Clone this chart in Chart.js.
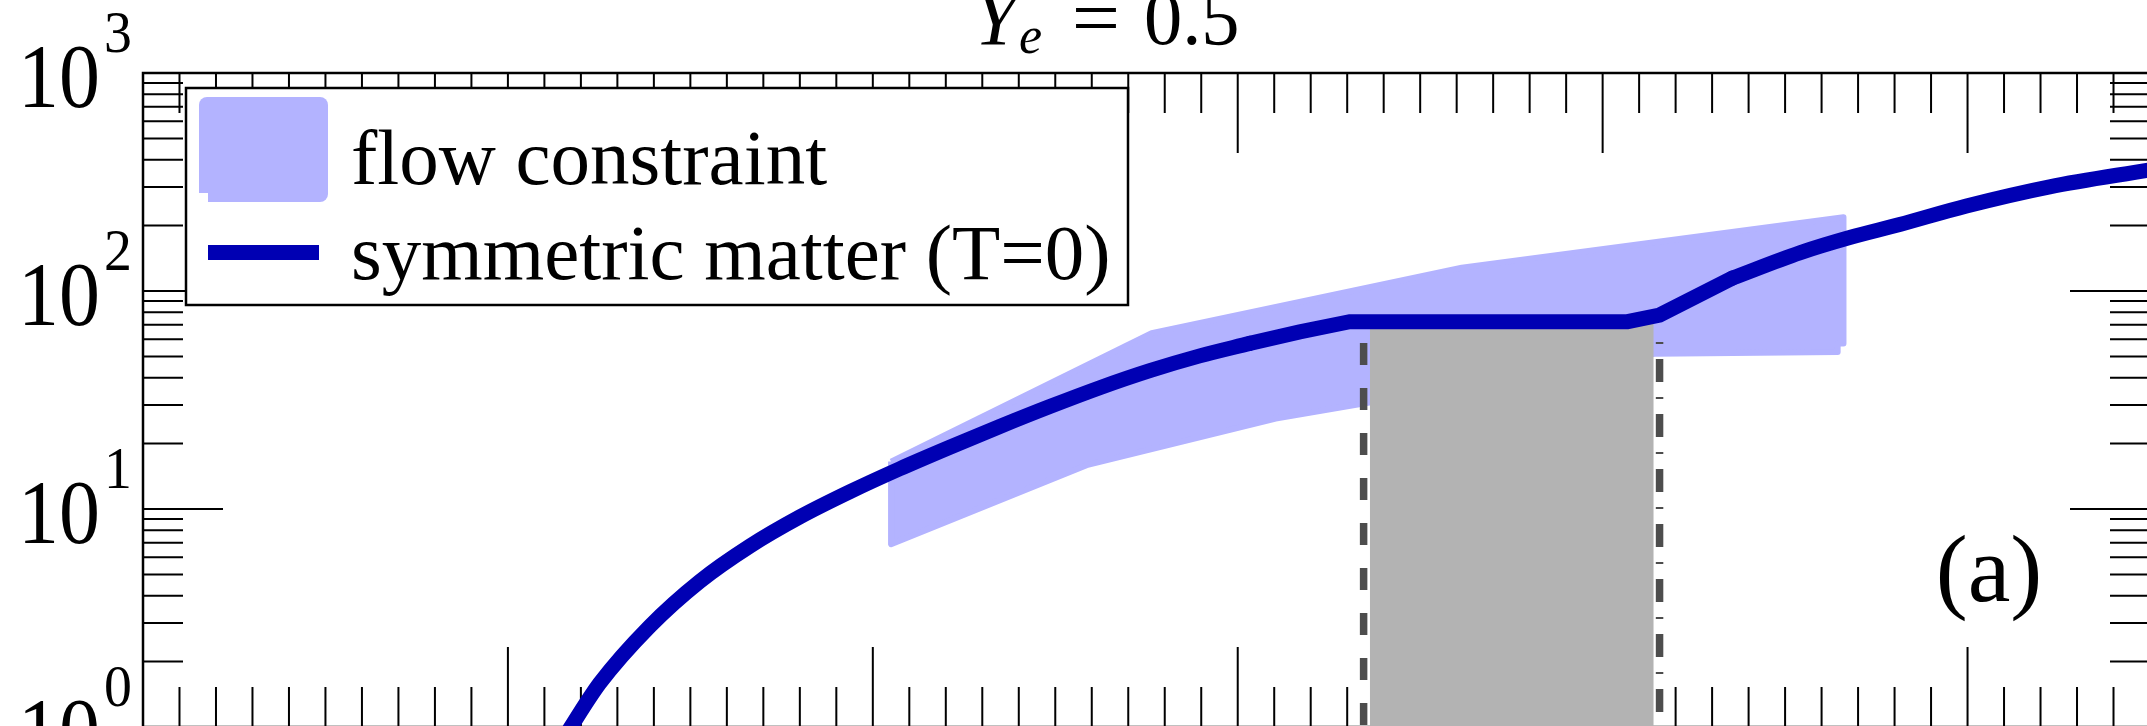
<!DOCTYPE html>
<html>
<head>
<meta charset="utf-8">
<script src="https://cdn.jsdelivr.net/npm/chart.js@4.4.1/dist/chart.umd.min.js"></script>
<style>
  html, body { margin: 0; padding: 0; background: #fff; overflow: hidden; }
  #wrap { position: absolute; left: 0; top: 0; width: 2160px; height: 740px; }
</style>
</head>
<body>
<div id="wrap"><canvas id="chart"></canvas></div>
<script>
// symmetric matter (T=0): n/n0 vs pressure, in three pieces
// low-density branch (smooth)
const symLowX = [1.157, 1.252, 1.389, 1.526, 1.663, 1.800, 1.937, 2.074, 2.211, 2.348, 2.485, 2.622, 2.759, 2.896, 3.033];
const symLowY = [0.91, 1.59, 2.90, 4.66, 6.76, 9.20, 12.0, 15.3, 19.2, 23.9, 29.5, 36.0, 43.1, 50.4, 57.5];
// plateau (mixed phase) with its kinks
const symMidX = [3.033, 3.170, 3.307, 4.068, 4.156, 4.356];
const symMidY = [57.5, 64.9, 72.3, 72.3, 77.6, 114.7];
// high-density branch (smooth)
const symHighX = [4.356, 4.540, 4.677, 4.814, 4.997, 5.225, 5.50];
const symHighY = [114.7, 149.6, 175.8, 201.8, 245.5, 300.6, 359.7];

// flow constraint band, traced as a closed outline
const flowX = [2.05, 2.764, 3.614, 4.66, 4.66, 4.644, 4.644, 4.142, 3.104, 2.586, 2.05, 2.05];
const flowY = [16.5, 64.0, 128, 218, 57.5, 57.5, 52.5, 51.5, 26.0, 15.9, 6.9, 16.5];

// phase-coexistence region and its two boundaries
const grayX = [3.362, 4.140];
const grayY = [72, 72];
const leftBoundX = [3.345, 3.345];
const leftBoundY = [57.7, 1];
const rightBoundX = [4.156, 4.156];
const rightBoundY = [58.4, 1];

// axes
const xMin = 0, xMax = 5.5;
const xMajorTicks = [0, 1, 2, 3, 4, 5];
const xMinorStep = 0.1;
const yMin = 1, yMax = 1000;
const yTickExponents = [0, 1, 2, 3];

const legendLabels = ['flow constraint', 'symmetric matter (T=0)'];
const panelLabel = '(a)';

const pts = (xs, ys) => xs.map((v, i) => ({ x: v, y: ys[i] }));
const serif = '"Liberation Serif", "Times New Roman", serif';
const blue = '#0000b3';

function drawScaled(ctx, str, x, y, sx, align) {
  ctx.save();
  ctx.translate(x, y);
  ctx.scale(sx, 1);
  ctx.textAlign = align || 'left';
  ctx.fillText(str, 0, 0);
  ctx.restore();
}

const framePlugin = {
  id: 'frame',
  beforeDatasetsDraw(chart) {
    const { ctx, chartArea: a, scales: { x, y } } = chart;
    ctx.save();
    ctx.strokeStyle = '#000';
    ctx.lineWidth = 2;
    ctx.beginPath();
    const nMinor = Math.round((xMax - xMin) / xMinorStep);
    for (let i = 0; i <= nMinor; i++) {
      const v = xMin + i * xMinorStep;
      const major = xMajorTicks.some(t => Math.abs(t - v) < 1e-6);
      const len = major ? 80 : 40;
      const px = x.getPixelForValue(v);
      ctx.moveTo(px, a.bottom); ctx.lineTo(px, a.bottom - len);
      ctx.moveTo(px, a.top); ctx.lineTo(px, a.top + len);
    }
    for (let e = 0; e < yTickExponents.length; e++) {
      for (let m = 1; m <= 9; m++) {
        const v = m * Math.pow(10, yTickExponents[e]);
        if (v > yMax) break;
        const py = y.getPixelForValue(v);
        const len = m === 1 ? 80 : 40;
        ctx.moveTo(a.left, py); ctx.lineTo(a.left + len, py);
        ctx.moveTo(a.right, py); ctx.lineTo(a.right - len, py);
      }
    }
    ctx.stroke();
    ctx.lineWidth = 2.5;
    ctx.strokeRect(a.left, a.top, a.right - a.left, a.bottom - a.top);
    ctx.restore();
  },
  afterDraw(chart) {
    const { ctx, chartArea: a, scales: { y } } = chart;
    ctx.save();
    ctx.fillStyle = '#000';
    ctx.textBaseline = 'alphabetic';

    // y tick labels 10^k
    yTickExponents.forEach(k => {
      const py = y.getPixelForValue(Math.pow(10, k));
      ctx.font = '90px ' + serif;
      drawScaled(ctx, '10', a.left - 43, py + 34, 0.91, 'right');
      ctx.font = '60px ' + serif;
      drawScaled(ctx, String(k), a.left - 39, py - 21, 0.93, 'left');
    });

    // title  Y_e = 0.5
    ctx.font = 'italic 78px ' + serif;
    ctx.fillText('Y', 974, 44);
    ctx.font = 'italic 52px ' + serif;
    ctx.fillText('e', 1019, 53);
    ctx.font = '78px ' + serif;
    drawScaled(ctx, '=', 1096, 44, 1.1, 'center');
    drawScaled(ctx, '0.5', 1144, 44, 0.98, 'left');

    // panel label
    ctx.font = '96px ' + serif;
    ctx.textAlign = 'center';
    ctx.fillText(panelLabel, 1989, 601);

    // legend box
    const lx = a.left + 43, ly = a.top + 15, lw = 942, lh = 217;
    ctx.fillStyle = '#fff';
    ctx.fillRect(lx, ly, lw, lh);
    ctx.lineWidth = 2.5;
    ctx.strokeStyle = '#000';
    ctx.strokeRect(lx, ly, lw, lh);

    ctx.fillStyle = '#b3b3ff';
    ctx.beginPath();
    ctx.roundRect(lx + 13, ly + 9, 129, 96, [8, 8, 0, 0]);
    ctx.fill();
    ctx.beginPath();
    ctx.roundRect(lx + 22, ly + 90, 120, 24, [0, 0, 8, 0]);
    ctx.fill();

    ctx.fillStyle = blue;
    ctx.fillRect(lx + 22, ly + 157, 111, 15);

    ctx.fillStyle = '#000';
    ctx.textAlign = 'left';
    ctx.font = '79px ' + serif;
    ctx.fillText(legendLabels[0], lx + 165, ly + 96);
    ctx.fillText(legendLabels[1], lx + 165, ly + 191);
    ctx.restore();
  }
};

function symLine(xs, ys, smooth) {
  return {
    label: legendLabels[1],
    data: pts(xs, ys),
    borderColor: blue,
    borderWidth: 15,
    borderJoinStyle: 'miter',
    borderCapStyle: 'round',
    cubicInterpolationMode: smooth ? 'monotone' : 'default',
    tension: 0,
    pointRadius: 0,
    fill: false,
    order: 0
  };
}

function build() {
  new Chart(document.getElementById('chart'), {
    type: 'line',
    data: {
      datasets: [
        symLine(symLowX, symLowY, true),
        symLine(symMidX, symMidY, false),
        symLine(symHighX, symHighY, true),
        {
          label: 'left boundary',
          data: pts(leftBoundX, leftBoundY),
          borderColor: '#4d4d4d',
          borderWidth: 7.5,
          borderDash: [22, 23],
          borderCapStyle: 'butt',
          pointRadius: 0,
          fill: false,
          order: 1
        },
        {
          label: 'right boundary',
          data: pts(rightBoundX, rightBoundY),
          borderColor: '#4d4d4d',
          borderWidth: 7.5,
          borderDash: [2, 15, 23, 15],
          borderCapStyle: 'butt',
          pointRadius: 0,
          fill: false,
          order: 2
        },
        {
          label: 'coexistence',
          data: pts(grayX, grayY),
          borderWidth: 0,
          borderColor: 'rgba(0,0,0,0)',
          backgroundColor: '#b3b3b3',
          pointRadius: 0,
          fill: 'start',
          order: 3
        },
        {
          label: legendLabels[0],
          data: pts(flowX, flowY),
          borderColor: '#b3b3ff',
          backgroundColor: '#b3b3ff',
          borderWidth: 6,
          borderJoinStyle: 'round',
          pointRadius: 0,
          tension: 0,
          fill: 'shape',
          order: 4
        }
      ]
    },
    options: {
      responsive: true,
      maintainAspectRatio: false,
      animation: false,
      layout: { padding: { left: 143, top: 73, right: 10, bottom: 13 } },
      scales: {
        x: { type: 'linear', min: xMin, max: xMax, display: false },
        y: { type: 'logarithmic', min: yMin, max: yMax, display: false }
      },
      plugins: {
        legend: { display: false },
        tooltip: { enabled: false }
      }
    },
    plugins: [framePlugin]
  });
}

Promise.all([
  document.fonts.load('79px "Liberation Serif"'),
  document.fonts.load('italic 78px "Liberation Serif"')
]).then(build, build);
</script>
</body>
</html>
